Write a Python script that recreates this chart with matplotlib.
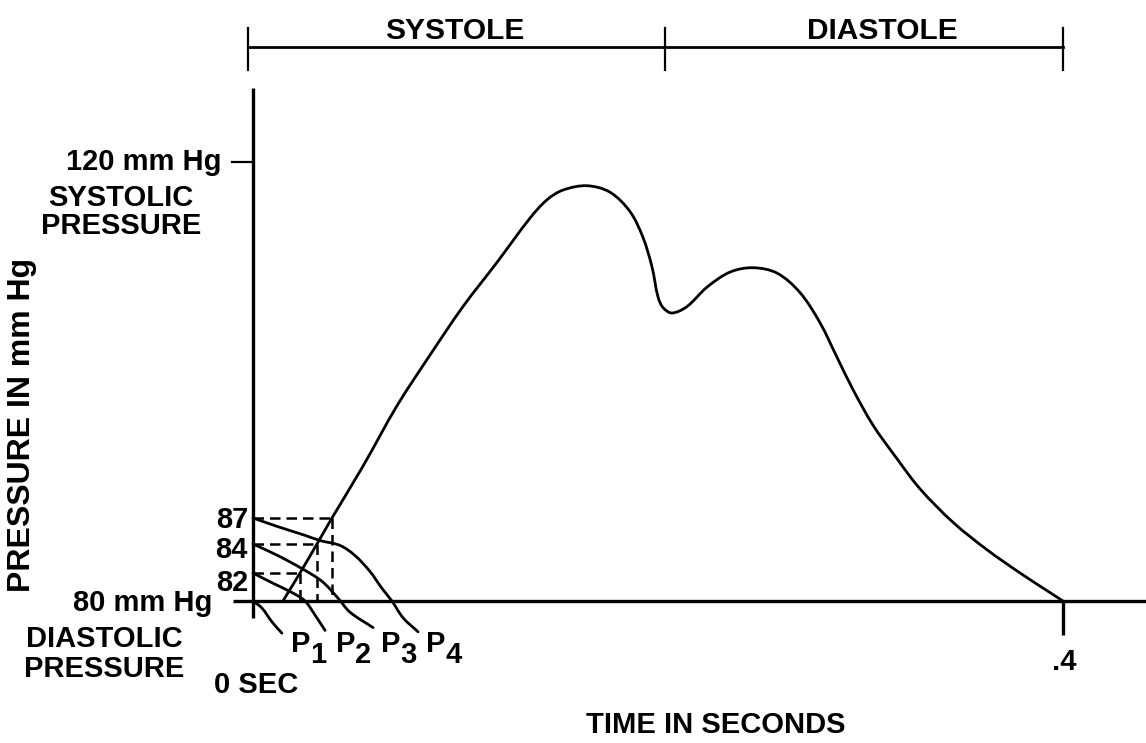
import numpy as np
import matplotlib
matplotlib.use("Agg")
import matplotlib.pyplot as plt
from matplotlib.path import Path
from matplotlib.patches import PathPatch

# ---------------- data (time in s, pressure in mm Hg) ----------------
phase_labels = ["SYSTOLE", "DIASTOLE"]
phase_bounds = [0.0, 0.2035, 0.4]

pulse_t = [0.0148, 0.0232, 0.0316, 0.0390, 0.0543, 0.0711, 0.0874, 0.1037,
           0.1205, 0.1368, 0.1452, 0.1531, 0.1649, 0.1763, 0.1862, 0.1926,
           0.1970, 0.2000, 0.2025, 0.2069, 0.2143, 0.2242, 0.2356, 0.2469,
           0.2588, 0.2701, 0.2800, 0.2884, 0.2963, 0.3062, 0.3180, 0.3294,
           0.3457, 0.3625, 0.3788, 0.3936, 0.4000]
pulse_p = [80.0, 82.0, 84.0, 87.0, 91.8, 97.4, 102.1, 106.6,
           110.7, 114.8, 116.5, 117.4, 117.8, 117.2, 115.4, 113.0,
           110.3, 107.5, 106.5, 106.0, 106.6, 108.4, 109.8, 110.2,
           109.7, 107.9, 105.1, 101.9, 98.9, 95.6, 92.5, 89.7,
           86.5, 83.6, 82.0, 80.6, 80.0]

ref_levels = [82, 84, 87]
ref_times = [0.0232, 0.0316, 0.0390]

p_names = ["1", "2", "3", "4"]
p1_t = [0.0, 0.0044, 0.0094, 0.0143]
p1_p = [80.0, 79.5, 78.5, 77.7]
p2_t = [0.0, 0.0094, 0.0193, 0.0257, 0.0306, 0.0356]
p2_p = [82.0, 81.3, 80.6, 80.0, 79.0, 77.9]
p3_t = [0.0, 0.0123, 0.0242, 0.0341, 0.0420, 0.0479, 0.0593]
p3_p = [84.0, 83.2, 82.3, 81.4, 80.2, 79.2, 78.1]
p4_t = [0.0, 0.0123, 0.0257, 0.0331, 0.0430, 0.0504, 0.0578, 0.0637,
        0.0686, 0.0741, 0.0815]
p4_p = [87.0, 86.0, 85.0, 84.4, 83.9, 83.2, 82.1, 80.9,
        80.0, 78.8, 77.8]

y_tick_labels = ["87", "84", "82"]

# ---------------- figure ----------------
W, H = 1146, 743
fig = plt.figure(figsize=(W / 100, H / 100), dpi=100)
ax = fig.add_axes([0, 0, 1, 1])
ax.set_axis_off()

# schematic (non-linear) pressure axis as drawn in the original
P_ANCH = [40, 80, 82, 84, 87, 120, 160]
H_ANCH = [-560, 0, 28, 57, 83, 439, 870.6]
fwd = lambda p: np.interp(p, P_ANCH, H_ANCH)
inv = lambda h: np.interp(h, H_ANCH, P_ANCH)
ax.set_yscale("function", functions=(fwd, inv))
ax.set_xlim(-253 / 2025, 893 / 2025)
ax.set_ylim(inv(-142), inv(601))

K = "black"


def smooth_curve(ts, ps, lw=2.0):
    """Draw a smooth line through the given points (chord-length Hermite as Bezier)."""
    X = np.asarray(ts, float) * 2025.0
    Y = fwd(np.asarray(ps, float))
    P = np.column_stack([X, Y])
    n = len(P)
    d = np.linalg.norm(np.diff(P, axis=0), axis=1)
    m = np.zeros_like(P)
    m[0] = (P[1] - P[0]) / d[0]
    m[-1] = (P[-1] - P[-2]) / d[-1]
    for i in range(1, n - 1):
        m[i] = (P[i + 1] - P[i - 1]) / (d[i - 1] + d[i])
    verts = [P[0]]
    codes = [Path.MOVETO]
    for i in range(n - 1):
        c1 = P[i] + m[i] * d[i] / 3.0
        c2 = P[i + 1] - m[i + 1] * d[i] / 3.0
        verts += [c1, c2, P[i + 1]]
        codes += [Path.CURVE4] * 3
    V = np.array(verts)
    V = np.column_stack([V[:, 0] / 2025.0, inv(V[:, 1])])
    ax.add_patch(PathPatch(Path(V, codes), facecolor="none", edgecolor=K,
                           lw=lw, joinstyle="round", capstyle="round"))


# axes
ax.plot([-0.0099, 0.441], [80, 80], color=K, lw=2.4, solid_capstyle="butt")
ax.plot([0, 0], [inv(-17), inv(513)], color=K, lw=2.4, solid_capstyle="butt")
# 120 tick
ax.plot([-0.0104, 0], [120, 120], color=K, lw=1.6)
# .4 tick
ax.plot([0.4, 0.4], [80, inv(-34)], color=K, lw=2.4, solid_capstyle="butt")

# phase bracket on top
yb, yb0, yb1 = inv(554), inv(531), inv(573)
ax.plot([phase_bounds[0] - 0.0025, phase_bounds[-1]], [yb, yb], color=K, lw=2.0)
for b in phase_bounds:
    bx = b - 0.0025 if b == phase_bounds[0] else b
    ax.plot([bx, bx], [yb0, yb1], color=K, lw=1.6)

# pressure pulse
smooth_curve(pulse_t, pulse_p, lw=2.0)

# dashed reference lines
for L, T in zip(ref_levels, ref_times):
    ax.plot([0, T], [L, L], color=K, lw=1.8, linestyle=(0, (4.2, 2.4)))
    ax.plot([T, T], [L, 80], color=K, lw=1.8, linestyle=(0, (4.2, 2.4)))

# P curves
for ts, ps in [(p1_t, p1_p), (p2_t, p2_p), (p3_t, p3_p), (p4_t, p4_p)]:
    smooth_curve(ts, ps, lw=2.0)

# ---------------- text ----------------
FONT = dict(family="Liberation Sans", weight="bold", color=K)


def T(x, y, s, size=21, ha="left", va="baseline", rot=0):
    fig.text(x / W, 1 - y / H, s, ha=ha, va=va, fontsize=size,
             rotation=rot, **FONT)


T(455, 39, phase_labels[0], size=21.5, ha="center")
T(882, 39, phase_labels[1], size=21.5, ha="center")
T(222, 170, "120 mm Hg", ha="right")
T(121, 206, "SYSTOLIC", ha="center")
T(121, 234, "PRESSURE", ha="center")
T(212, 611, "80 mm Hg", ha="right")
T(104, 647, "DIASTOLIC", ha="center")
T(104, 677, "PRESSURE", ha="center")
T(256, 693, "0 SEC", ha="center")
T(1064, 670, ".4", ha="center")
T(716, 733, "TIME IN SECONDS", ha="center")
T(22, 425, "PRESSURE IN mm Hg", size=23, ha="center", va="center", rot=90)
for lab, yy in zip(y_tick_labels, [528, 558, 591]):
    T(248, yy, lab, ha="right")
for n, xp in zip(p_names, [291, 336, 381, 426]):
    T(xp, 652, "P")
    T(xp + 19, 663, n)

fig.savefig("out.png", dpi=100)
